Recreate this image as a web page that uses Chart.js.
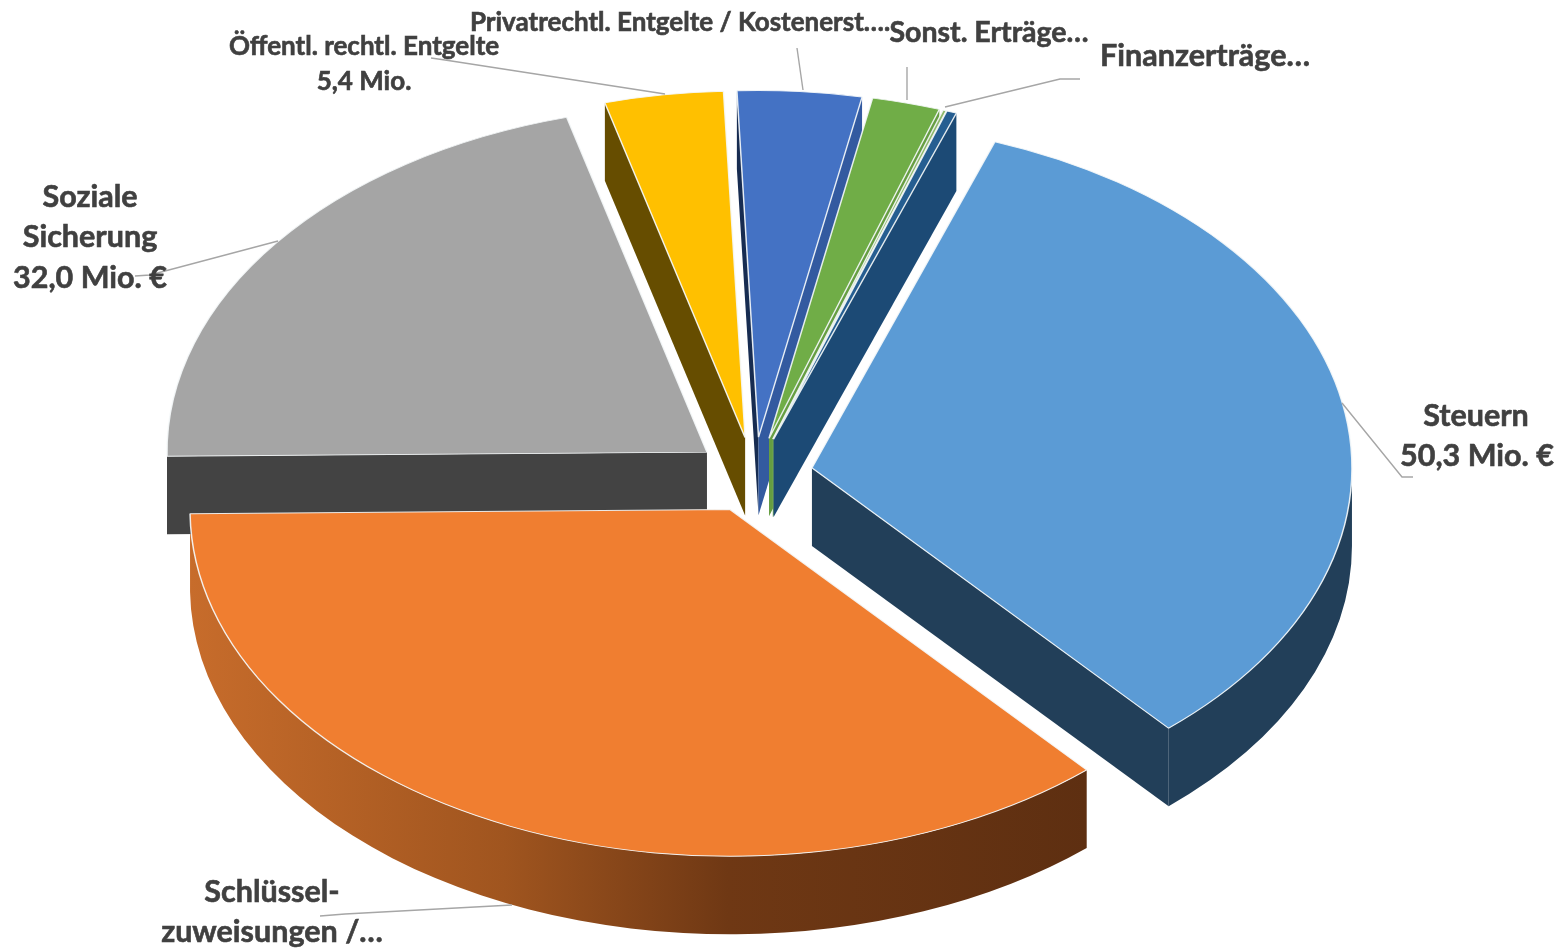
<!DOCTYPE html>
<html>
<head>
<meta charset="utf-8">
<title>Erträge</title>
<script src="https://cdn.jsdelivr.net/npm/chart.js@4"></script>
<style>
    html, body { margin: 0; background: #fff; }
    canvas { display: block; }
</style>
</head>
<body>
<canvas id="ertraegeChart" width="1557" height="950"></canvas>
<script>
// values in Mio. EUR (only 50,3 / 32,0 / 5,4 are printed)
const categories = ["Steuern", "Schlüsselzuweisungen", "Soziale Sicherung", "Öffentl. rechtl. Entgelte", "Privatrechtl. Entgelte", "Sonst. Erträge", "Sonstige", "Finanzerträge"];
const values = [50.3, 55.3, 32.0, 5.4, 5.65, 3.1, 0.15, 0.45];

const sliceColors = ['#5B9BD5', '#F07E30', '#A5A5A5', '#FFC000', '#4472C4', '#70AD47', '#8DB86B', '#255E91'];
const startWallColors = [null, null, '#434343', '#664D00', '#172C51', null, null, null];
const endWallColors = ['#223F59', null, null, null, '#335AA0', '#669E42', '#7FB35E', '#1C4A75'];
const outerWallColors = ['#223F59', 'gradient', null, null, null, null, null, null];

// 3d look
const tilt = 0.642;
const depth = 78;
const explode = 59;
const pieRadius = 540;

// text labels: [text, centre x, middle y, font size]
const dataLabels = [
    ["Steuern", 1476, 416, 30.5],
    ["50,3 Mio. €", 1477, 456, 30.5],
    ["Schlüssel-", 272, 892, 30.5],
    ["zuweisungen /…", 272, 932, 30.5],
    ["Soziale", 90, 197, 30.5],
    ["Sicherung", 90, 237, 30.5],
    ["32,0 Mio. €", 90, 278, 30.5],
    ["Öffentl. rechtl. Entgelte", 364, 47, 26],
    ["5,4 Mio.", 364, 82, 26],
    ["Privatrechtl. Entgelte / Kostenerst….", 680, 23, 26],
    ["Sonst. Erträge…", 989, 33, 28.5],
    ["Finanzerträge…", 1205, 56, 30.5]
];

const leaderLines = [
    [[1342, 403], [1402, 477], [1413, 477]],
    [[512, 905], [345, 914], [320, 916]],
    [[278, 241], [150, 275], [135, 276]],
    [[665, 94], [445, 60], [431, 58]],
    [[803, 90], [797, 48]],
    [[907, 100], [907, 67]],
    [[945, 107], [1060, 79], [1080, 79]]
];

function midAngle(arc) {
    return (arc.startAngle + arc.endAngle) / 2;
}

// apex of a slice on the screen
function sliceApex(arc) {
    return {
        x: arc.x + explode * Math.cos(midAngle(arc)),
        y: arc.y + explode * Math.sin(midAngle(arc)) * tilt
    };
}

function drawEdgeWall(ctx, arc, angle, color) {
    let apex = sliceApex(arc);
    let x = apex.x + arc.outerRadius * Math.cos(angle);
    let y = apex.y + arc.outerRadius * Math.sin(angle) * tilt;
    ctx.fillStyle = color;
    ctx.beginPath();
    ctx.moveTo(apex.x, apex.y);
    ctx.lineTo(x, y);
    ctx.lineTo(x, y + depth);
    ctx.lineTo(apex.x, apex.y + depth);
    ctx.closePath();
    ctx.fill();
}

function drawOuterWall(ctx, arc, color) {
    let apex = sliceApex(arc);
    let rx = arc.outerRadius;
    // only the front half of the rim can be seen
    let from = Math.max(arc.startAngle, 0);
    let to = Math.min(arc.endAngle, Math.PI);
    if (color == 'gradient') {
        let grad = ctx.createLinearGradient(apex.x - rx, 0, apex.x + rx * Math.cos(from), 0);
        grad.addColorStop(0, '#C76C2B');
        grad.addColorStop(0.35, '#A0551F');
        grad.addColorStop(0.6, '#6F3814');
        grad.addColorStop(1, '#5E2F11');
        color = grad;
    }
    ctx.fillStyle = color;
    ctx.beginPath();
    ctx.ellipse(apex.x, apex.y, rx, rx * tilt, 0, from, to);
    ctx.ellipse(apex.x, apex.y + depth, rx, rx * tilt, 0, to, from, true);
    ctx.closePath();
    ctx.fill();
}

const tiltedPie = {
    id: 'tiltedPie',
    beforeDatasetDraw(chart, args) {
        let ctx = chart.ctx;
        let arcs = args.meta.data;

        arcs.forEach((arc, i) => {
            if (startWallColors[i]) drawEdgeWall(ctx, arc, arc.startAngle, startWallColors[i]);
            if (endWallColors[i]) drawEdgeWall(ctx, arc, arc.endAngle, endWallColors[i]);
            if (outerWallColors[i]) drawOuterWall(ctx, arc, outerWallColors[i]);
        });

        // slice tops, squashed around the pie centre
        arcs.forEach(arc => {
            let apex = sliceApex(arc);
            ctx.save();
            ctx.translate(apex.x, apex.y);
            ctx.scale(1, tilt);
            ctx.translate(-arc.x, -arc.y);
            arc.draw(ctx);
            ctx.restore();
        });
        return false;
    },
    afterDatasetsDraw(chart) {
        let ctx = chart.ctx;
        ctx.save();
        ctx.strokeStyle = '#A6A6A6';
        ctx.lineWidth = 1.4;
        leaderLines.forEach(line => {
            ctx.beginPath();
            line.forEach((p, i) => i ? ctx.lineTo(p[0], p[1]) : ctx.moveTo(p[0], p[1]));
            ctx.stroke();
        });
        ctx.fillStyle = '#404040';
        ctx.strokeStyle = '#404040';
        ctx.lineWidth = 0.6;
        ctx.textAlign = 'center';
        ctx.textBaseline = 'middle';
        dataLabels.forEach(label => {
            ctx.font = 'bold ' + label[3] + 'px Lato';
            ctx.fillText(label[0], label[1], label[2]);
            ctx.strokeText(label[0], label[1], label[2]);
        });
        ctx.restore();
    }
};

new Chart(document.getElementById('ertraegeChart'), {
    type: 'pie',
    data: {
        labels: categories,
        datasets: [{
            data: values,
            backgroundColor: sliceColors,
            borderColor: 'rgba(245, 248, 250, 0.9)',
            borderWidth: 1.5,
            clip: false
        }]
    },
    options: {
        responsive: false,
        animation: false,
        rotation: 19.8,
        radius: pieRadius,
        layout: { padding: { right: 49 } },
        plugins: {
            legend: { display: false },
            tooltip: { enabled: false }
        }
    },
    plugins: [tiltedPie]
});
</script>
</body>
</html>
